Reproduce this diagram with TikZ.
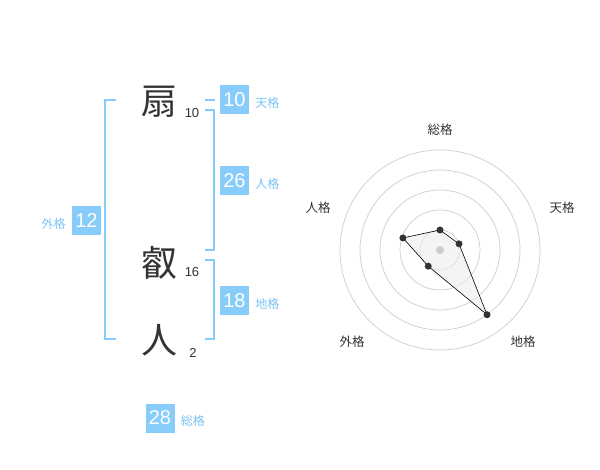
\documentclass[tikz,border=0pt]{standalone}
\usepackage{fontspec}
\setmainfont{Liberation Sans}
\newfontfamily\jp{Noto Sans CJK JP}
\usetikzlibrary{positioning,calc}

\definecolor{kakublue}{RGB}{135,204,250}
\definecolor{labelblue}{RGB}{120,195,245}
\definecolor{inkgray}{RGB}{51,51,51}
\definecolor{ringgray}{RGB}{204,204,204}

\tikzset{
  kanji/.style={font=\jp\fontsize{36}{36}\selectfont, text=inkgray, inner sep=0pt},
  strokes/.style={font=\fontsize{13}{13}\selectfont, text=inkgray, inner sep=0pt},
  kakubox/.style={fill=kakublue, text=white, minimum width=29pt, minimum height=29pt,
    inner sep=0pt, font=\fontsize{20}{20}\selectfont},
  kakulabel/.style={font=\jp\fontsize{12}{12}\selectfont, text=labelblue, inner sep=0pt},
  bracket/.style={draw=kakublue, line width=2pt},
  radarlabel/.style={font=\jp\fontsize{12.5}{12.5}\selectfont, text=inkgray, inner sep=0pt},
  ring/.style={draw=ringgray, line width=0.7pt},
  dot/.style={fill=inkgray}
}

\begin{document}
\begin{tikzpicture}[x=1pt,y=-1pt]
    \useasboundingbox (0,0) rectangle (600,470);

    % Name characters with stroke counts
    \node[kanji] (c1) at (159,102) {扇};
    \node[kanji] (c2) at (159,263) {叡};
    \node[kanji] (c3) at (159,340) {人};
    \node[strokes] (n1) at (192,113) {10};
    \node[strokes] (n2) at (192,272) {16};
    \node[strokes] (n3) at (193,353) {2};

    % Brackets
    \draw[bracket] (116,100) -- (105,100) -- (105,339) -- (116,339);
    \draw[bracket] (205,100) -- (215,100);
    \draw[bracket] (205,110) -- (214,110) -- (214,250) -- (205,250);
    \draw[bracket] (205,260) -- (214,260) -- (214,339) -- (205,339);

    % Score boxes
    \node[kakubox] (gai) at (86.5,220.5) {12};
    \node[kakulabel, left=6pt of gai, yshift=-3pt] (gailbl) {外格};
    \node[kakubox] (ten) at (234.5,100) {10};
    \node[kakulabel, right=6pt of ten, yshift=-3pt] (tenlbl) {天格};
    \node[kakubox] (jin) at (234.5,180.5) {26};
    \node[kakulabel, right=6pt of jin, yshift=-3pt] (jinlbl) {人格};
    \node[kakubox] (chi) at (234.5,300.5) {18};
    \node[kakulabel, right=6pt of chi, yshift=-3pt] (chilbl) {地格};
    \node[kakubox] (sou) at (160,418) {28};
    \node[kakulabel, right=6pt of sou, yshift=-3pt] (soulbl) {総格};

    % Radar chart
    \begin{scope}[shift={(440,250)}, y=1pt]
        \foreach \r in {20,40,...,100}
            \draw[ring] (0,0) circle (\r);
        \coordinate (pS) at (90:20);
        \coordinate (pT) at (18:20);
        \coordinate (pC) at (-54:80);
        \coordinate (pG) at (-126:20);
        \coordinate (pJ) at (162:39);
        \filldraw[fill=gray!15, fill opacity=0.6, draw=black, line width=0.6pt]
            (pS) -- (pT) -- (pC) -- (pG) -- (pJ) -- cycle;
        \fill[ringgray] (0,0) circle (4);
        \foreach \p in {pS,pT,pC,pG,pJ}
            \fill[dot] (\p) circle (3.5);
        \node[radarlabel] (lS) at (0,120) {総格};
        \node[radarlabel] (lT) at (122,42) {天格};
        \node[radarlabel] (lC) at (83,-92) {地格};
        \node[radarlabel] (lG) at (-88,-92) {外格};
        \node[radarlabel] (lJ) at (-122,42) {人格};
    \end{scope}
\end{tikzpicture}
\end{document}
